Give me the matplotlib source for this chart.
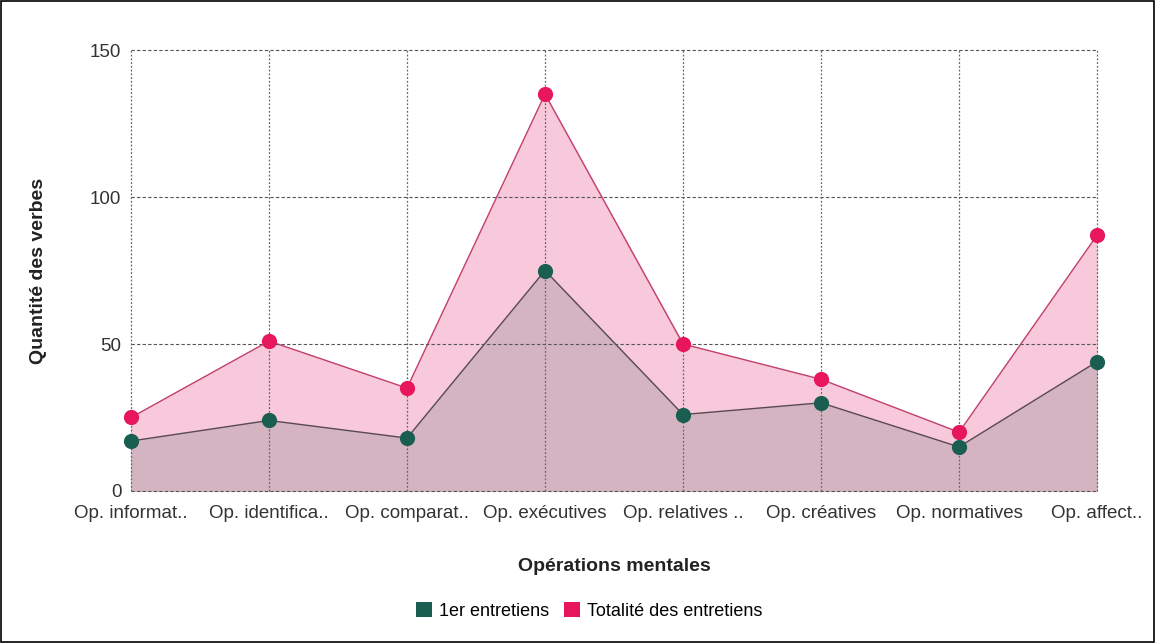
import matplotlib.pyplot as plt
import numpy as np
from matplotlib.patches import Rectangle
import matplotlib.patches as mpatches

plt.rcParams['font.family'] = ['Liberation Sans', 'DejaVu Sans']

categories = ['Op. informat..', 'Op. identifica..', 'Op. comparat..', 'Op. exécutives',
              'Op. relatives ..', 'Op. créatives', 'Op. normatives', 'Op. affect..']
totalite = [25, 51, 35, 135, 50, 38, 20, 87]
premier = [17, 24, 18, 75, 26, 30, 15, 44]

pink = '#e8175d'
green = '#1a5e52'

fig = plt.figure(figsize=(11.55, 6.43), dpi=100)
ax = fig.add_axes([0.1134, 0.2364, 0.8364, 0.6858])

x = np.arange(len(categories))

ax.fill_between(x, 0, totalite, color='#f7c9da', zorder=1)
ax.plot(x, totalite, color='#c2406e', lw=1, zorder=3)
ax.fill_between(x, 0, premier, color='#d3b4c0', zorder=2)
ax.plot(x, premier, color='#5a4a50', lw=1, zorder=3)
ax.scatter(x, totalite, s=120, color=pink, zorder=5, linewidths=0, clip_on=False)
ax.scatter(x, premier, s=120, color=green, zorder=5, linewidths=0, clip_on=False)

ax.set_xlim(0, len(categories) - 1)
ax.set_ylim(0, 150)
ax.set_yticks([0, 50, 100, 150])
ax.set_xticks(x)
ax.set_xticklabels(categories)

for v in [0, 50, 100, 150]:
    ax.axhline(v, color='#555555', lw=0.8, ls=(0, (3, 2)), zorder=4, clip_on=False)
for xi in x:
    ax.axvline(xi, color='#666666', lw=0.9, ls=(0, (1.5, 1.5)), zorder=4, clip_on=False)

for s in ax.spines.values():
    s.set_visible(False)
ax.tick_params(length=0, labelsize=13.5, colors='#333333')
ax.tick_params(axis='x', pad=10)
ax.tick_params(axis='y', pad=7)

ax.set_xlabel('Opérations mentales', fontsize=14, fontweight='bold', color='#222222', labelpad=26)
ax.set_ylabel('Quantité des verbes', fontsize=14, fontweight='bold', color='#222222', labelpad=31)

legend_elements = [
    mpatches.Patch(facecolor=green, label='1er entretiens'),
    mpatches.Patch(facecolor=pink, label='Totalité des entretiens'),
]
fig.legend(handles=legend_elements, loc='center', bbox_to_anchor=(0.51, 0.05),
           ncol=2, frameon=False, fontsize=13, handlelength=0.9, handleheight=0.9,
           handletextpad=0.4, columnspacing=0.8)

fig.patches.append(Rectangle((0.001, 0.001), 0.998, 0.998, transform=fig.transFigure,
                             fill=False, edgecolor='black', lw=1.2))

fig.savefig('out.png', dpi=100, facecolor='white')
